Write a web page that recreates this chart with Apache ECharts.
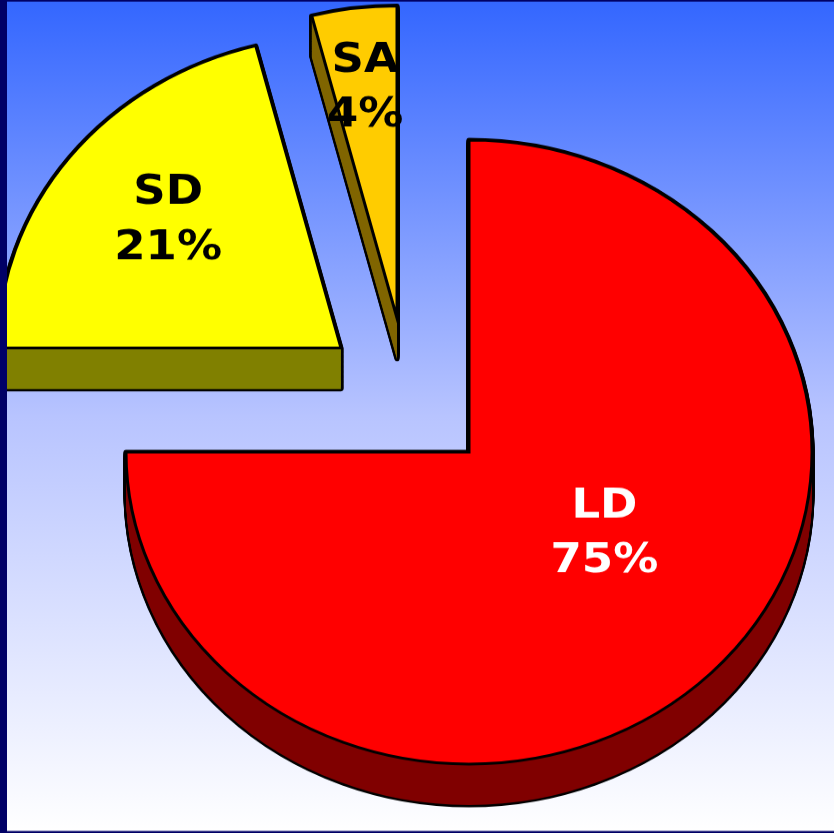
<!DOCTYPE html>
<html>
<head>
<meta charset="utf-8">
<script src="https://cdn.jsdelivr.net/npm/echarts@6.0.0/dist/echarts.min.js"></script>
<style>
  html, body { margin: 0; padding: 0; overflow: hidden; width: 834px; height: 833px; }
  body { background: linear-gradient(to bottom, #3366FF 0%, #B8C4FF 50%, #FFFFFF 100%); }
  #wrap { position: absolute; left: 0; top: 0; width: 834px; height: 833px; overflow: hidden; }
  #chart { position: absolute; left: 0; top: 0; width: 834px; transform-origin: 0 0; }
</style>
</head>
<body>
<div id="wrap"><div id="chart"></div></div>
<script>
// ---- data ----
const categories = ['LD', 'SD', 'SA'];
const values = [75, 21, 4];

// ---- styles ----
const topColors = ['#FF0000', '#FFFF00', '#FFCC00'];
const sideColors = ['#800000', '#808000', '#806600'];
const labelColors = ['#FFFFFF', '#000000', '#000000'];

// ---- layout (screen px) ----
const W = 834, H = 833;
const SY = 312 / 343;              // vertical tilt of the pie (ellipse ratio)
const HP = H / SY;                 // pre-scale chart height
const radius = 343;
const centers = [[469, 452], [341, 348], [397, 318]];   // exploded slice centres
const depth = 41;
const labelShift = [[12, -30], [-35, -30], [-10, -72]];

const el = document.getElementById('chart');
el.style.height = HP + 'px';
el.style.transform = 'scaleY(' + SY + ')';

const transparentItem = { color: 'rgba(0,0,0,0)', borderWidth: 0 };

function pieLayer(k, dyScreen, style, withLabel) {
  const s = {
    type: 'pie',
    silent: true,
    animation: false,
    center: [centers[k][0], (centers[k][1] + dyScreen) / SY],
    radius: radius,
    startAngle: 90,
    clockwise: true,
    avoidLabelOverlap: false,
    labelLine: { show: false },
    emphasis: { disabled: true },
    label: withLabel ? {
      show: true,
      position: 'inside',
      formatter: p => p.name + '\n' + p.value + '%',
      color: labelColors[k],
      fontFamily: 'DejaVu Sans',
      fontWeight: 'bold',
      fontSize: 45,
      lineHeight: 55 / SY
    } : { show: false },
    data: categories.map((c, i) => ({
      name: c,
      value: values[i],
      itemStyle: i === k ? style : transparentItem,
      label: { show: !!withLabel && i === k }
    }))
  };
  if (withLabel) {
    s.labelLayout = { dx: labelShift[k][0], dy: labelShift[k][1] / SY };
  }
  return s;
}

const series = [];
for (let k = 0; k < categories.length; k++) {
  // outline pass for the extruded body
  for (let d = depth; d >= 0; d--) {
    series.push(pieLayer(k, d, {
      color: sideColors[k], borderColor: '#000000', borderWidth: 5, borderJoin: 'round'
    }, false));
  }
  // fill pass for the extruded body
  for (let d = depth; d >= 1; d--) {
    series.push(pieLayer(k, d, { color: sideColors[k], borderWidth: 0 }, false));
  }
}
// top faces with labels
for (let k = 0; k < categories.length; k++) {
  series.push(pieLayer(k, 0, {
    color: topColors[k], borderColor: '#000000', borderWidth: 3, borderJoin: 'miter'
  }, true));
}

const chart = echarts.init(el, null, { renderer: 'canvas' });
chart.setOption({
  backgroundColor: 'transparent',
  animation: false,
  series: series,
  graphic: [
    { type: 'rect', z: 100, silent: true, shape: { x: 0, y: 0, width: 7, height: HP }, style: { fill: '#000066' } },
    { type: 'rect', z: 100, silent: true, shape: { x: 0, y: 0, width: W, height: 1.5 / SY }, style: { fill: '#000066' } },
    { type: 'rect', z: 100, silent: true, shape: { x: 0, y: 831 / SY, width: W, height: 3 / SY }, style: { fill: '#000066' } }
  ]
});
</script>
</body>
</html>
